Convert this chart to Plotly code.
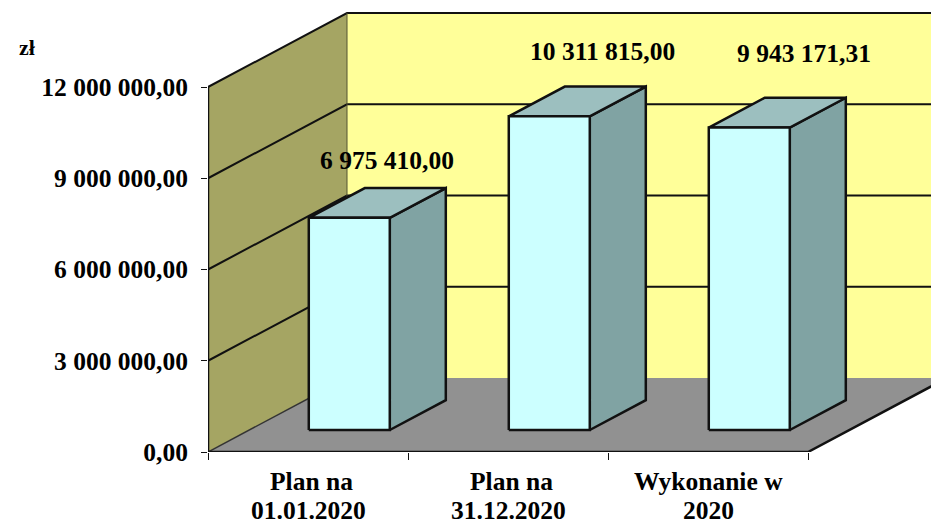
import plotly.graph_objects as go

category_lines = [("Plan na", "01.01.2020"), ("Plan na", "31.12.2020"), ("Wykonanie w", "2020")]
values = [6975410.00, 10311815.00, 9943171.31]
value_labels = ["6 975 410,00", "10 311 815,00", "9 943 171,31"]
y_ticks = [0, 3000000, 6000000, 9000000, 12000000]
y_tick_labels = ["0,00", "3 000 000,00", "6 000 000,00", "9 000 000,00", "12 000 000,00"]

W, H = 931, 522
X0, Y0 = 208, 452            # front axis origin
PX_PER_CAT = 200
PX_PER_VAL = 365 / 12000000
DEPTH_DX = 139 / PX_PER_CAT  # full depth in category units
DEPTH_DY = 74 / PX_PER_VAL   # full depth in value units
BAR_W = 0.405
BAR_D0, BAR_D1 = 0.297, 0.70
YMAX = 12000000
FONT = dict(family="Liberation Serif", size=25.5, color="black")
LABEL_XSHIFT = [38, 53, 55]
LABEL_YSHIFT = [57, 65, 74]
CAT_LINE_YSHIFT = [-29, -58]
CAT_FIRST_XSHIFT = [3, 3, 0]


def P(x, v, d):
    return x + d * DEPTH_DX, v + d * DEPTH_DY


def poly(points, fill=None, line=None, width=2):
    xs, ys = zip(*[P(*p) for p in points])
    return go.Scatter(
        x=xs, y=ys, mode="lines",
        fill="toself" if fill else None, fillcolor=fill,
        line=dict(color=line or "rgba(0,0,0,0)", width=width if line else 0),
        hoverinfo="skip", showlegend=False,
    )


XN = len(category_lines)
fig = go.Figure()
# floor
fig.add_trace(poly([(0, 0, 0), (XN, 0, 0), (XN, 0, 1), (0, 0, 1), (0, 0, 0)], fill="#919191"))
# back wall
fig.add_trace(poly([(0, 0, 1), (XN, 0, 1), (XN, YMAX, 1), (0, YMAX, 1), (0, 0, 1)], fill="#FFFF99"))
# side wall
fig.add_trace(poly([(0, 0, 0), (0, 0, 1), (0, YMAX, 1), (0, YMAX, 0), (0, 0, 0)], fill="#A5A563"))
# gridlines
for t in y_ticks[1:]:
    fig.add_trace(poly([(0, t, 0), (0, t, 1), (XN, t, 1)], line="#111111", width=2))
# outlines
fig.add_trace(poly([(0, 0, 1), (0, YMAX, 1)], line="#555533", width=1))
fig.add_trace(poly([(0, 0, 1), (0, 0, 0)], line="#333333", width=1.5))
fig.add_trace(poly([(0, YMAX, 0), (0, 0, 0), (XN, 0, 0), (XN, 0, 1)], line="#111111", width=2.5))

# bars
for i, v in enumerate(values):
    xl, xr = i + 0.5 - BAR_W / 2, i + 0.5 + BAR_W / 2
    fig.add_trace(poly([(xr, 0, BAR_D0), (xr, 0, BAR_D1), (xr, v, BAR_D1), (xr, v, BAR_D0), (xr, 0, BAR_D0)],
                       fill="#80A3A3", line="#111111", width=2.5))
    fig.add_trace(poly([(xl, v, BAR_D0), (xr, v, BAR_D0), (xr, v, BAR_D1), (xl, v, BAR_D1), (xl, v, BAR_D0)],
                       fill="#9CBFBF", line="#111111", width=2.5))
    fig.add_trace(poly([(xl, 0, BAR_D0), (xr, 0, BAR_D0), (xr, v, BAR_D0), (xl, v, BAR_D0), (xl, 0, BAR_D0)],
                       fill="#CCFFFF", line="#111111", width=2.5))
    x_a, y_a = P(i + 0.5, v, BAR_D0)
    fig.add_annotation(x=x_a, y=y_a, text="<b>%s</b>" % value_labels[i], showarrow=False,
                       xshift=LABEL_XSHIFT[i], yshift=LABEL_YSHIFT[i], font=FONT,
                       xanchor="center", yanchor="middle")
    first, second = category_lines[i]
    fig.add_annotation(x=i + 0.5, y=0, text="<b>%s</b>" % first, showarrow=False,
                       xshift=CAT_FIRST_XSHIFT[i], yshift=CAT_LINE_YSHIFT[0],
                       font=FONT, xanchor="center", yanchor="middle")
    fig.add_annotation(x=i + 0.5, y=0, text="<b>%s</b>" % second, showarrow=False,
                       yshift=CAT_LINE_YSHIFT[1], font=FONT, xanchor="center", yanchor="middle")

fig.add_annotation(xref="paper", yref="paper", x=(26.5 - X0) / (W - X0), y=(Y0 - 47) / Y0, text="<b>zł</b>",
                   showarrow=False, font=dict(family="Liberation Serif", size=22, color="black"),
                   xanchor="center", yanchor="middle")

fig.update_layout(
    width=W, height=H, autosize=False,
    margin=dict(l=X0, r=0, t=0, b=H - Y0),
    paper_bgcolor="white", plot_bgcolor="white", showlegend=False,
    font=FONT,
    xaxis=dict(
        range=[0, (W - X0) / PX_PER_CAT], showgrid=False, zeroline=False, showline=False,
        tickmode="array", tickvals=list(range(XN + 1)), showticklabels=False,
        ticks="outside", ticklen=7, tickcolor="#111111", tickwidth=1,
    ),
    yaxis=dict(
        range=[0, Y0 / PX_PER_VAL], showgrid=False, zeroline=False, showline=False,
        tickmode="array", tickvals=y_ticks, ticktext=["<b>%s</b>" % t for t in y_tick_labels],
        ticks="outside", ticklen=6, tickcolor="#111111", tickwidth=1, ticklabelstandoff=8,
    ),
)
fig.write_html("out.html", post_script="document.body.style.margin='0';",
               config={"displayModeBar": False})
